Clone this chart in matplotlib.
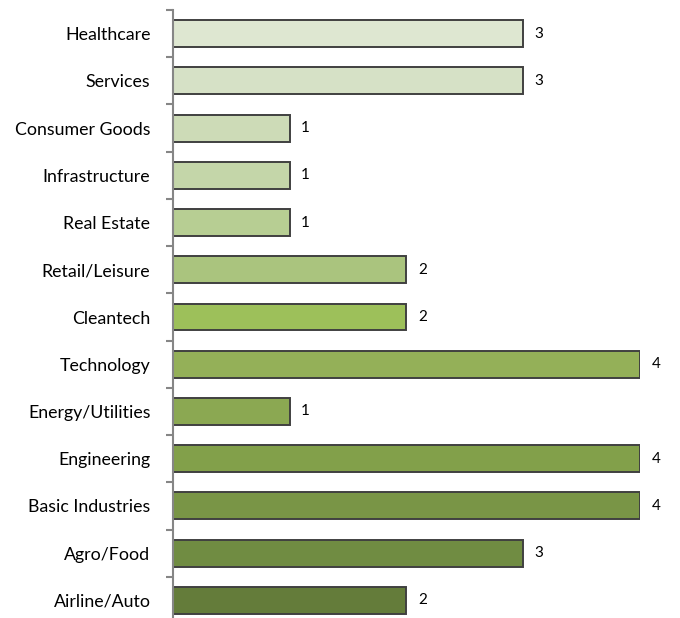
import matplotlib.pyplot as plt

sectors = ["Healthcare", "Services", "Consumer Goods", "Infrastructure", "Real Estate",
           "Retail/Leisure", "Cleantech", "Technology", "Energy/Utilities", "Engineering",
           "Basic Industries", "Agro/Food", "Airline/Auto"]
counts = [3, 3, 1, 1, 1, 2, 2, 4, 1, 4, 4, 3, 2]
colours = ["#DEE7D1", "#D6E1C6", "#CDDBB7", "#C4D6A9", "#B7CE93", "#AAC47E", "#9DC05A",
           "#94B058", "#8BA852", "#82A04A", "#799546", "#708C42", "#647C3A"]

plt.rcParams['font.family'] = ['Lato', 'DejaVu Sans']

fig = plt.figure(figsize=(6.8, 6.18), dpi=100)
ax = fig.add_axes([0.254, -0.0097, 0.687, 0.9935])

ypos = list(range(len(sectors)))
ax.barh(ypos, counts, height=0.57, color=colours, edgecolor="#404040", linewidth=1.4)
for y, v in zip(ypos, counts):
    ax.text(v + 0.1, y, str(v), va="center", ha="left", fontsize=11, clip_on=False)

ax.set_xlim(0, 4)
ax.set_ylim(len(sectors) - 0.5, -0.5)
ax.set_yticks(ypos)
ax.set_yticklabels(sectors, fontsize=12.8)
ax.tick_params(axis="y", length=0, pad=16)
ax.set_yticks([i - 0.5 for i in range(len(sectors) + 1)], minor=True)
ax.tick_params(axis="y", which="minor", length=5, color="#868686", width=1.5)
ax.set_xticks([])
for s in ["top", "right", "bottom"]:
    ax.spines[s].set_visible(False)
ax.spines["left"].set_color("#868686")
ax.spines["left"].set_linewidth(1.5)

fig.savefig("out.png", dpi=100)
